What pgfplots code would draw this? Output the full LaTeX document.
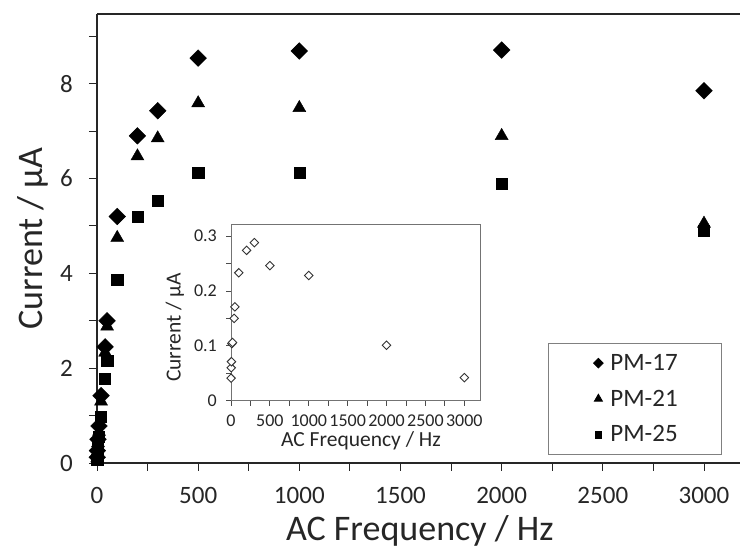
\documentclass[border=0pt]{standalone}
\usepackage{fontspec}
\setmainfont{Carlito}
\usepackage{pgfplots}
\usepackage{pgfplotstable}
\pgfplotsset{compat=1.18}

% current (uA) vs AC frequency (Hz)
\pgfplotstableread{
f     pm17  pm21  pm25
1     0.12  0.10  0.07
2     0.26  0.21  0.15
5     0.50  0.42  0.32
10    0.78  0.66  0.55
20    1.42  1.30  0.98
40    2.45  2.33  1.77
50    3.00  2.88  2.15
100   5.20  4.75  3.87
200   6.90  6.47  5.20
300   7.43  6.85  5.53
500   8.54  7.59  6.13
1000  8.69  7.49  6.13
2000  8.71  6.90  5.89
3000  7.85  5.05  4.90
}\maindata

% inset series
\pgfplotstableread{
f     cur
1     0.041
2     0.060
5     0.071
10    0.104
20    0.106
40    0.150
50    0.171
100   0.233
200   0.274
300   0.288
500   0.246
1000  0.228
2000  0.101
3000  0.042
}\insetdata

\begin{document}
\begin{tikzpicture}
\begin{axis}[
  at={(97pt,91pt)}, anchor=south west,
  scale only axis, width=643pt, height=449pt,
  xmin=0, xmax=3178, ymin=0, ymax=9.47,
  axis lines*=left,
  axis line style={black!85, line width=1.1pt},
  tick align=outside, major tick length=8pt, minor tick length=8pt,
  tick style={black!85, line width=0.9pt},
  xtick={0,500,...,3000}, minor xtick={250,750,...,2750},
  ytick={0,2,...,8}, minor ytick={1,3,...,9},
  scaled ticks=false,
  /pgf/number format/1000 sep={},
  /pgf/number format/assume math mode=true,
  tick label style={font=\fontsize{25}{25}\selectfont, text=black!85, inner sep=0pt},
  yticklabel style={xshift=-16pt},
  xticklabel style={yshift=-16pt},
  xlabel={AC Frequency / Hz}, ylabel={Current / µA},
  every axis x label/.style={at={(axis description cs:0.502,-0.152)}, anchor=center},
  every axis y label/.style={at={(axis description cs:-0.0995,0.5)}, anchor=center, rotate=90},
  label style={font=\fontsize{36}{36}\selectfont, text=black!85},
  clip=false,
  legend image code/.code={
    \path[draw=none] (0pt,0pt) (18pt,0pt);
    \path[only marks, mark repeat=2, mark phase=2] plot coordinates {(0pt,0pt)(8pt,0pt)(16pt,0pt)};},
  legend style={at={(axis description cs:0.7014,0.2673)}, anchor=north west,
    draw=black!50, line width=0.8pt, inner xsep=42pt, inner ysep=9pt,
    font=\fontsize{25}{25}\selectfont, row sep=14pt,
    nodes={inner sep=2pt, text=black!85}},
  legend cell align=left,
  after end axis/.code={\draw[black!85, line width=1.1pt] (rel axis cs:0,1) -- (rel axis cs:1,1);}
]
\addplot[only marks, mark=square*, mark size=5.9pt, mark options={rotate=45, fill=black, draw=black},
  legend image post style={mark size=3.4pt}] table[x=f, y=pm17] {\maindata};
\addlegendentry{PM-17}
\addplot[only marks, mark=triangle*, mark size=7.5pt, mark options={fill=black, draw=black},
  legend image post style={mark size=4.6pt}] table[x=f, y=pm21] {\maindata};
\addlegendentry{PM-21}
\addplot[only marks, mark=square*, mark size=5.6pt, mark options={fill=black, draw=black},
  legend image post style={mark size=3.4pt}] table[x=f, y=pm25] {\maindata};
\addlegendentry{PM-25}
\end{axis}

\begin{axis}[
  at={(231pt,153.3pt)}, anchor=south west,
  scale only axis, width=249pt, height=176.7pt,
  xmin=0, xmax=3202, ymin=0, ymax=0.322,
  axis background/.style={fill=white},
  axis line style={black!55, line width=0.9pt},
  tick align=outside, major tick length=5pt, minor tick length=5pt,
  tick style={black!70, line width=0.8pt},
  xtick pos=bottom, ytick pos=left,
  xtick={0,500,...,3000}, minor xtick={250,750,...,2750},
  ytick={0,0.1,0.2,0.3}, minor ytick={0.05,0.15,0.25},
  scaled ticks=false,
  /pgf/number format/1000 sep={},
  /pgf/number format/fixed,
  /pgf/number format/assume math mode=true,
  tick label style={font=\fontsize{18}{18}\selectfont, text=black!85, inner sep=0pt},
  yticklabel style={xshift=-9pt},
  xticklabel style={yshift=-9pt},
  xlabel={AC Frequency / Hz}, ylabel={Current / µA},
  every axis x label/.style={at={(axis description cs:0.522,-0.225)}, anchor=center},
  every axis y label/.style={at={(axis description cs:-0.225,0.414)}, anchor=center, rotate=90},
  label style={font=\fontsize{21.5}{21.5}\selectfont, text=black!85},
  clip=false
]
\addplot[only marks, mark=square*, mark size=3.0pt,
  mark options={rotate=45, fill=white, draw=black!80, line width=0.9pt}] table[x=f, y=cur] {\insetdata};
\end{axis}
\pgfresetboundingbox
\useasboundingbox (0,0) rectangle (740pt,554pt);
\end{tikzpicture}
\end{document}
